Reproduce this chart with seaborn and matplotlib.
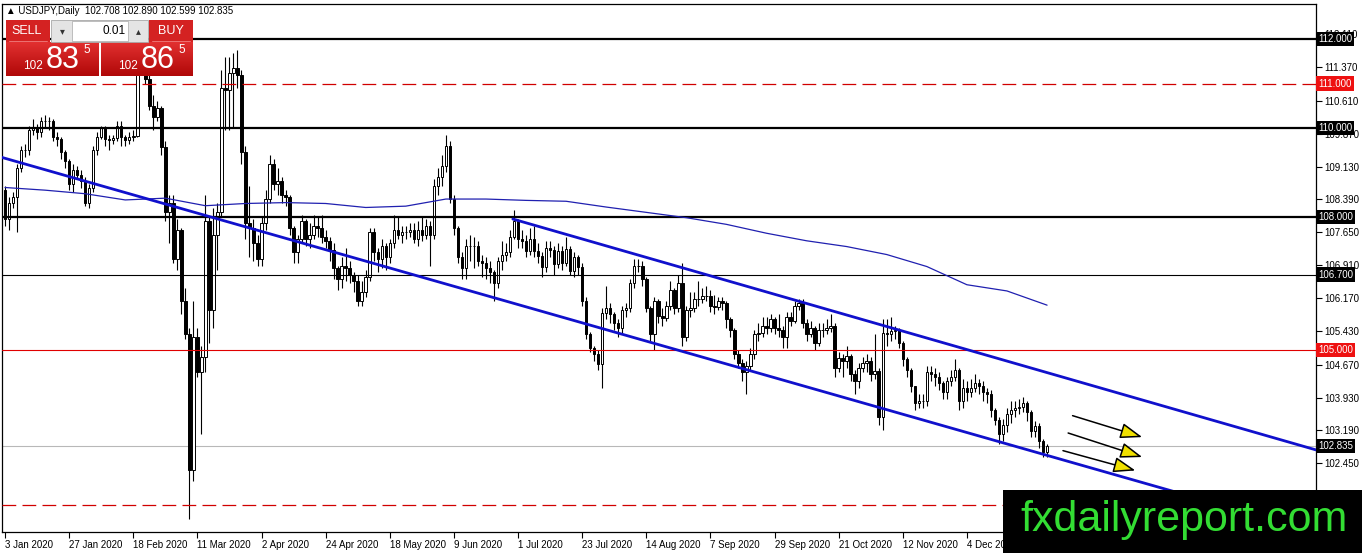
import numpy as np
import pandas as pd
import matplotlib
matplotlib.use("Agg")
import matplotlib.pyplot as plt
import seaborn as sns
from matplotlib.patches import Rectangle
from matplotlib.colors import LinearSegmentedColormap
from matplotlib.transforms import blended_transform_factory

# daily USDJPY candles (open of each bar = previous close)
first_open = 108.60
closes = [
    107.95, 108.30, 108.45, 109.10, 109.50, 109.50, 109.95, 110.00, 109.90, 110.15,
    110.15, 110.15, 109.80, 109.75, 109.45, 109.25, 108.75, 109.05, 108.95, 108.80,
    108.30, 108.65, 109.50, 109.80, 110.00, 109.75, 109.72, 109.78, 110.05, 109.80,
    109.72, 109.80, 109.82, 111.40, 112.10, 111.10, 110.50, 110.25, 110.45, 109.58,
    108.10, 108.30, 107.05, 107.70, 106.10, 105.35, 102.30, 105.30, 104.50, 104.85,
    107.90, 105.90, 107.60, 108.10, 110.90, 110.85, 111.25, 111.35, 111.20, 109.45,
    107.85, 107.75, 107.40, 107.05, 107.85, 108.40, 109.20, 108.75, 108.80, 108.50,
    108.45, 107.75, 107.20, 107.50, 107.90, 107.50, 107.60, 107.80, 107.75, 107.55,
    107.45, 107.25, 106.85, 106.60, 106.90, 106.85, 106.70, 106.55, 106.10, 106.30,
    106.65, 107.65, 107.20, 107.05, 107.35, 107.10, 107.40, 107.70, 107.60, 107.65,
    107.65, 107.70, 107.50, 107.70, 107.60, 107.80, 107.60, 108.70, 108.90, 109.15,
    109.60, 108.40, 107.75, 107.10, 106.85, 107.35, 107.35, 107.35, 107.00, 106.95,
    106.85, 106.75, 106.50, 107.00, 107.15, 107.20, 107.55, 107.90, 107.50, 107.45,
    107.23, 107.50, 107.23, 107.12, 106.86, 107.30, 107.25, 106.93, 107.23, 106.97,
    107.27, 106.78, 107.10, 106.86, 106.11, 105.35, 105.05, 104.90, 104.68, 105.84,
    105.95, 105.80, 105.60, 105.50, 105.90, 105.95, 106.50, 106.90, 106.90, 106.60,
    105.95, 105.35, 106.10, 105.77, 105.73, 106.00, 106.35, 105.95, 106.52, 105.30,
    105.90, 105.95, 106.15, 106.15, 106.22, 106.22, 106.00, 105.97, 106.10, 106.05,
    105.70, 105.45, 104.90, 104.70, 104.50, 104.65, 104.90, 105.35, 105.38, 105.55,
    105.50, 105.70, 105.50, 105.45, 105.30, 105.75, 105.65, 105.98, 106.05, 105.60,
    105.35, 105.50, 105.16, 105.46, 105.46, 105.50, 105.53, 104.60, 104.82, 104.75,
    104.86, 104.45, 104.30, 104.60, 104.70, 104.75, 104.45, 104.52, 103.50, 105.38,
    105.35, 105.42, 105.45, 105.15, 104.80, 104.56, 104.18, 103.80, 103.85, 103.85,
    104.50, 104.45, 104.40, 104.25, 104.05, 104.30, 104.40, 104.55, 103.85, 104.15,
    104.05, 104.15, 104.25, 104.20, 104.05, 104.00, 103.65, 103.43, 103.10, 103.30,
    103.55, 103.65, 103.70, 103.72, 103.80, 103.60, 103.17, 103.28, 102.95, 102.708,
    102.835,
]
highs = [
    108.70, 108.45, 108.55, 109.20, 109.60, 109.65, 110.05, 110.20, 110.10, 110.25,
    110.30, 110.25, 110.20, 109.90, 109.80, 109.50, 109.30, 109.20, 109.15, 109.05,
    108.90, 108.75, 109.60, 109.90, 110.05, 110.05, 109.85, 109.85, 110.15, 110.15,
    109.85, 109.90, 109.95, 111.60, 112.20, 112.25, 111.20, 110.75, 110.60, 110.50,
    109.70, 108.50, 108.50, 107.95, 107.75, 106.40, 105.50, 106.10, 105.50, 105.10,
    108.50, 108.00, 108.20, 108.30, 111.30, 111.60, 111.60, 111.70, 111.75, 111.30,
    109.60, 108.70, 107.95, 107.60, 108.00, 108.60, 109.40, 109.30, 109.10, 108.90,
    108.60, 108.50, 107.80, 107.60, 108.05, 107.95, 107.85, 108.05, 108.00, 108.05,
    107.70, 107.55, 107.40, 106.90, 107.10, 107.30, 107.00, 106.75, 106.70, 106.55,
    106.80, 107.75, 107.75, 107.30, 107.50, 107.40, 107.50, 108.05, 108.00, 107.80,
    107.80, 107.85, 107.85, 107.90, 108.00, 107.95, 107.90, 108.85, 109.10, 109.40,
    109.85, 109.70, 108.50, 107.80, 107.20, 107.50, 107.60, 107.55, 107.45, 107.15,
    107.10, 107.00, 106.80, 107.10, 107.45, 107.40, 107.70, 108.15, 107.95, 107.70,
    107.60, 107.75, 107.80, 107.40, 107.20, 107.45, 107.45, 107.35, 107.40, 107.35,
    107.55, 107.35, 107.20, 107.15, 106.95, 106.20, 105.40, 105.10, 105.00, 105.95,
    106.45, 106.05, 105.85, 105.70, 106.00, 106.05, 106.60, 107.05, 107.05, 107.00,
    106.65, 106.00, 106.20, 106.15, 105.95, 106.10, 106.55, 106.40, 106.70, 106.95,
    106.00, 106.30, 106.30, 106.55, 106.40, 106.45, 106.35, 106.25, 106.20, 106.20,
    106.10, 105.75, 105.50, 105.00, 104.80, 104.75, 105.05, 105.45, 105.60, 105.75,
    105.75, 105.80, 105.75, 105.80, 105.55, 105.85, 105.85, 106.10, 106.15, 106.15,
    105.70, 105.65, 105.55, 105.60, 105.60, 105.70, 105.80, 105.60, 104.95, 104.90,
    105.10, 104.90, 104.55, 104.70, 104.85, 104.90, 104.85, 105.35, 104.60, 105.70,
    105.70, 105.75, 105.55, 105.50, 105.20, 104.85, 104.60, 104.20, 104.00, 104.00,
    104.65, 104.65, 104.60, 104.50, 104.30, 104.40, 104.55, 104.80, 104.60, 104.35,
    104.30, 104.35, 104.45, 104.35, 104.30, 104.15, 104.10, 103.70, 103.50, 103.45,
    103.70, 103.85, 103.85, 103.90, 103.95, 103.85, 103.65, 103.40, 103.35, 103.00,
    102.890,
]
lows = [
    107.80, 107.70, 108.20, 107.65, 109.00, 109.35, 109.40, 109.85, 109.75, 109.80,
    110.00, 109.95, 109.70, 109.60, 109.30, 109.10, 108.60, 108.55, 108.85, 108.65,
    108.25, 108.20, 108.55, 109.40, 109.75, 109.60, 109.50, 109.65, 109.70, 109.60,
    109.60, 109.65, 109.70, 109.80, 111.30, 111.00, 110.40, 109.95, 110.15, 109.40,
    107.90, 107.40, 106.95, 106.80, 105.80, 105.25, 101.20, 102.05, 104.40, 103.10,
    104.50, 105.15, 105.50, 106.80, 108.00, 109.95, 109.95, 110.00, 110.90, 109.20,
    107.50, 107.10, 107.00, 106.90, 106.90, 107.70, 108.30, 108.60, 108.50, 108.30,
    108.25, 107.60, 106.95, 106.95, 107.40, 107.35, 107.30, 107.50, 107.55, 107.40,
    107.30, 107.00, 106.60, 106.35, 106.40, 106.55, 106.50, 106.30, 106.00, 105.98,
    106.20, 106.55, 107.00, 106.75, 106.85, 106.80, 106.95, 107.30, 107.50, 107.40,
    107.50, 107.55, 107.40, 107.35, 107.45, 107.50, 106.90, 107.50, 108.50, 108.70,
    109.00, 108.30, 107.60, 106.95, 106.60, 106.60, 107.00, 106.85, 106.90, 106.65,
    106.60, 106.50, 106.10, 106.40, 106.80, 107.00, 107.10, 107.50, 107.30, 107.30,
    107.10, 107.15, 107.10, 106.95, 106.65, 106.75, 107.10, 106.70, 106.85, 106.80,
    106.90, 106.70, 106.65, 106.70, 106.00, 105.25, 104.95, 104.75, 104.55, 104.15,
    105.70, 105.60, 105.45, 105.30, 105.35, 105.75, 105.85, 106.40, 106.75, 106.45,
    105.85, 105.20, 105.00, 105.60, 105.55, 105.65, 105.90, 105.80, 105.85, 105.10,
    105.20, 105.75, 105.85, 106.00, 106.05, 106.10, 105.85, 105.80, 105.90, 105.90,
    105.50, 105.30, 104.80, 104.60, 104.30, 104.00, 104.55, 104.80, 105.20, 105.30,
    105.35, 105.40, 105.35, 105.30, 105.05, 105.05, 105.55, 105.60, 105.90, 105.50,
    105.20, 105.30, 105.00, 105.10, 105.30, 105.35, 105.40, 104.40, 104.50, 104.40,
    104.60, 104.30, 104.00, 104.15, 104.50, 104.50, 104.30, 104.35, 103.30, 103.20,
    105.10, 105.20, 105.25, 105.05, 104.65, 104.40, 104.05, 103.65, 103.70, 103.70,
    103.75, 104.30, 104.20, 104.10, 103.90, 103.90, 104.20, 104.30, 103.65, 103.70,
    103.85, 103.95, 104.05, 104.00, 103.85, 103.80, 103.50, 103.30, 102.88, 102.95,
    103.15, 103.35, 103.50, 103.55, 103.60, 103.40, 103.05, 103.05, 102.80, 102.60,
    102.599,
]

# moving average (thin blue), read every 10 bars
ma_bars = [0, 10, 20, 30, 40, 50, 60, 70, 80, 90, 100, 110, 120, 130,
           140, 150, 160, 170, 180, 190, 200, 210, 220, 230, 240, 250, 260]
ma_vals = [108.66, 108.60, 108.52, 108.38, 108.42, 108.25, 108.30, 108.32, 108.30,
           108.21, 108.24, 108.40, 108.40, 108.37, 108.35, 108.22, 108.10, 107.98,
           107.83, 107.63, 107.46, 107.33, 107.15, 106.88, 106.47, 106.33, 106.01]

# descending channel (bar index, price)
upper_bars = [126.7, 327.1]
upper_vals = [107.95, 102.75]
lower_bars = [-1.25, 327.1]
lower_vals = [109.35, 100.90]

# horizontal levels
black_thick = [112.0, 110.0, 108.0]
black_thin = [106.7]
red_solid = [105.0]
red_dashed = [111.0, 101.5]
last_price = 102.835

right_ticks = [112.110, 111.370, 110.610, 109.870, 109.130, 108.390, 107.650,
               106.910, 106.170, 105.430, 104.670, 103.930, 103.190, 102.450]
boxed = [(112.0, "black"), (111.0, "#EE1111"), (110.0, "black"), (108.0, "black"),
         (106.7, "black"), (105.0, "#EE1111"), (102.835, "black")]

# trend arrows: (bar0, price0, bar1, price1)
arrows = [(265.7, 103.54, 284.4, 103.02),
          (264.6, 103.15, 284.4, 102.57),
          (263.3, 102.75, 282.7, 102.27)]

sns.set_theme(style="white")
plt.rcParams["font.family"] = ["Liberation Sans", "DejaVu Sans"]

fig = plt.figure(figsize=(13.62, 5.53), dpi=100)
ax = fig.add_axes([2 / 1362, 21 / 553, 1314 / 1362, 528 / 553])

n = len(closes)
x = np.arange(n)
c = np.array(closes)
o = np.array([first_open] + closes[:-1])
hi = np.maximum(np.array(highs), np.maximum(o, c))
lo = np.minimum(np.array(lows), np.minimum(o, c))
up = c >= o

ax.vlines(x, lo, hi, color="black", lw=0.8, zorder=2)
ax.bar(x, c - o, bottom=o, width=0.62, color=np.where(up, "white", "black"),
       edgecolor="black", linewidth=0.7, zorder=3)

for lvl in black_thick:
    ax.axhline(lvl, color="black", lw=1.6, zorder=4)
for lvl in black_thin:
    ax.axhline(lvl, color="black", lw=0.8, zorder=4)
for lvl in red_solid:
    ax.axhline(lvl, color="#E00000", lw=0.8, zorder=4)
for lvl in red_dashed:
    ax.axhline(lvl, color="#D00000", lw=0.9, dashes=(11, 5), zorder=4)
ax.axhline(last_price, color="#B8B8B8", lw=0.8, zorder=1)

sns.lineplot(x=ma_bars, y=ma_vals, ax=ax, color="#2020B0", lw=0.9, zorder=5)
sns.lineplot(x=upper_bars, y=upper_vals, ax=ax, color="#1010CC", lw=2.0, zorder=6)
sns.lineplot(x=lower_bars, y=lower_vals, ax=ax, color="#1010CC", lw=2.0, zorder=6)

for b0, p0, b1, p1 in arrows:
    ax.annotate("", xy=(b1, p1), xytext=(b0, p0),
                arrowprops=dict(arrowstyle="-|>,head_length=0.9,head_width=0.32",
                                mutation_scale=15, lw=1.1,
                                edgecolor="black", facecolor="#F0E000"),
                zorder=7)

ax.set_xlim(-0.75, 327.1)
ax.set_ylim(100.901, 112.793)

dates = pd.bdate_range("2020-01-03", periods=n)
tick_pos = list(range(0, n, 16))
ax.set_xticks(tick_pos)
ax.set_xticklabels([f"{dates[i].day} {dates[i].strftime('%b %Y')}" for i in tick_pos],
                   ha="left")
ax.tick_params(axis="x", bottom=True, direction="out", length=4, width=0.8,
               labelsize=7, pad=1.5, colors="black")

ax.yaxis.tick_right()
ax.set_yticks(right_ticks)
ax.set_yticklabels([f"{v:.3f}" for v in right_ticks])
ax.tick_params(axis="y", right=True, left=False, direction="out", length=4,
               width=0.8, labelsize=7, pad=2, colors="black")
ax.set_xlabel("")
ax.set_ylabel("")
for sp in ax.spines.values():
    sp.set_color("black")
    sp.set_linewidth(0.9)

trans = blended_transform_factory(ax.transAxes, ax.transData)
for val, fc in boxed:
    ax.text(1.0016, val, f"{val:.3f}", transform=trans, ha="left", va="center",
            fontsize=7, color="white", clip_on=False, zorder=20,
            bbox=dict(boxstyle="square,pad=0.22", fc=fc, ec="none"))

ax.text(0.003, 0.987, "\u25b2 USDJPY,Daily  102.708 102.890 102.599 102.835",
        transform=ax.transAxes, ha="left", va="center", fontsize=7, color="black",
        zorder=20)

# overlay in pixel coordinates: trade panel and site logo
ov = fig.add_axes([0, 0, 1, 1], zorder=10)
ov.set_xlim(0, 1362)
ov.set_ylim(553, 0)
ov.axis("off")
ov.patch.set_alpha(0)

red_grad = LinearSegmentedColormap.from_list("rg", ["#E23030", "#B00808"])
grad = np.linspace(0, 1, 50).reshape(-1, 1)
for left, right in [(6, 99), (101, 193)]:
    ov.imshow(grad, extent=(left, right, 76, 42), aspect="auto", cmap=red_grad,
              zorder=1)
ov.add_patch(Rectangle((6, 20), 44, 22, fc="#D42222", ec="none", zorder=1))
ov.add_patch(Rectangle((149, 20), 44, 22, fc="#D42222", ec="none", zorder=1))
ov.plot([9, 47], [40.5, 40.5], color="#F08080", lw=0.6, zorder=2)
ov.plot([152, 190], [40.5, 40.5], color="#F08080", lw=0.6, zorder=2)
ov.add_patch(Rectangle((51, 20), 97, 22, fc="#E4E4E4", ec="#A8A8A8", lw=0.6, zorder=1))
ov.add_patch(Rectangle((72, 21), 56, 20, fc="white", ec="#A8A8A8", lw=0.5, zorder=2))
ov.text(62, 31, "\u25be", ha="center", va="center", fontsize=7, color="#333333",
        family=["DejaVu Sans"])
ov.text(138, 31, "\u25b4", ha="center", va="center", fontsize=7, color="#333333",
        family=["DejaVu Sans"])
ov.text(126, 31, "0.01", ha="right", va="center", fontsize=8.5, color="black")
ov.text(27, 31, "SELL", ha="center", va="center", fontsize=9, color="white")
ov.text(171, 31, "BUY", ha="center", va="center", fontsize=9, color="white")
for cx, big in [(0, "83"), (95, "86")]:
    ov.text(33 + cx, 66, "102", ha="center", va="center", fontsize=8.5, color="white")
    ov.text(63 + cx, 60, big, ha="center", va="center", fontsize=22, color="white")
    ov.text(87 + cx, 50, "5", ha="center", va="center", fontsize=8.5, color="white")

ov.add_patch(Rectangle((1003, 490), 359, 63, fc="black", ec="none", zorder=5))
ov.text(1020, 531, "fxdailyreport.com", ha="left", va="baseline", fontsize=31,
        color="#33DD33", family=["Liberation Sans"], zorder=6)

fig.savefig("out.png", dpi=100)
